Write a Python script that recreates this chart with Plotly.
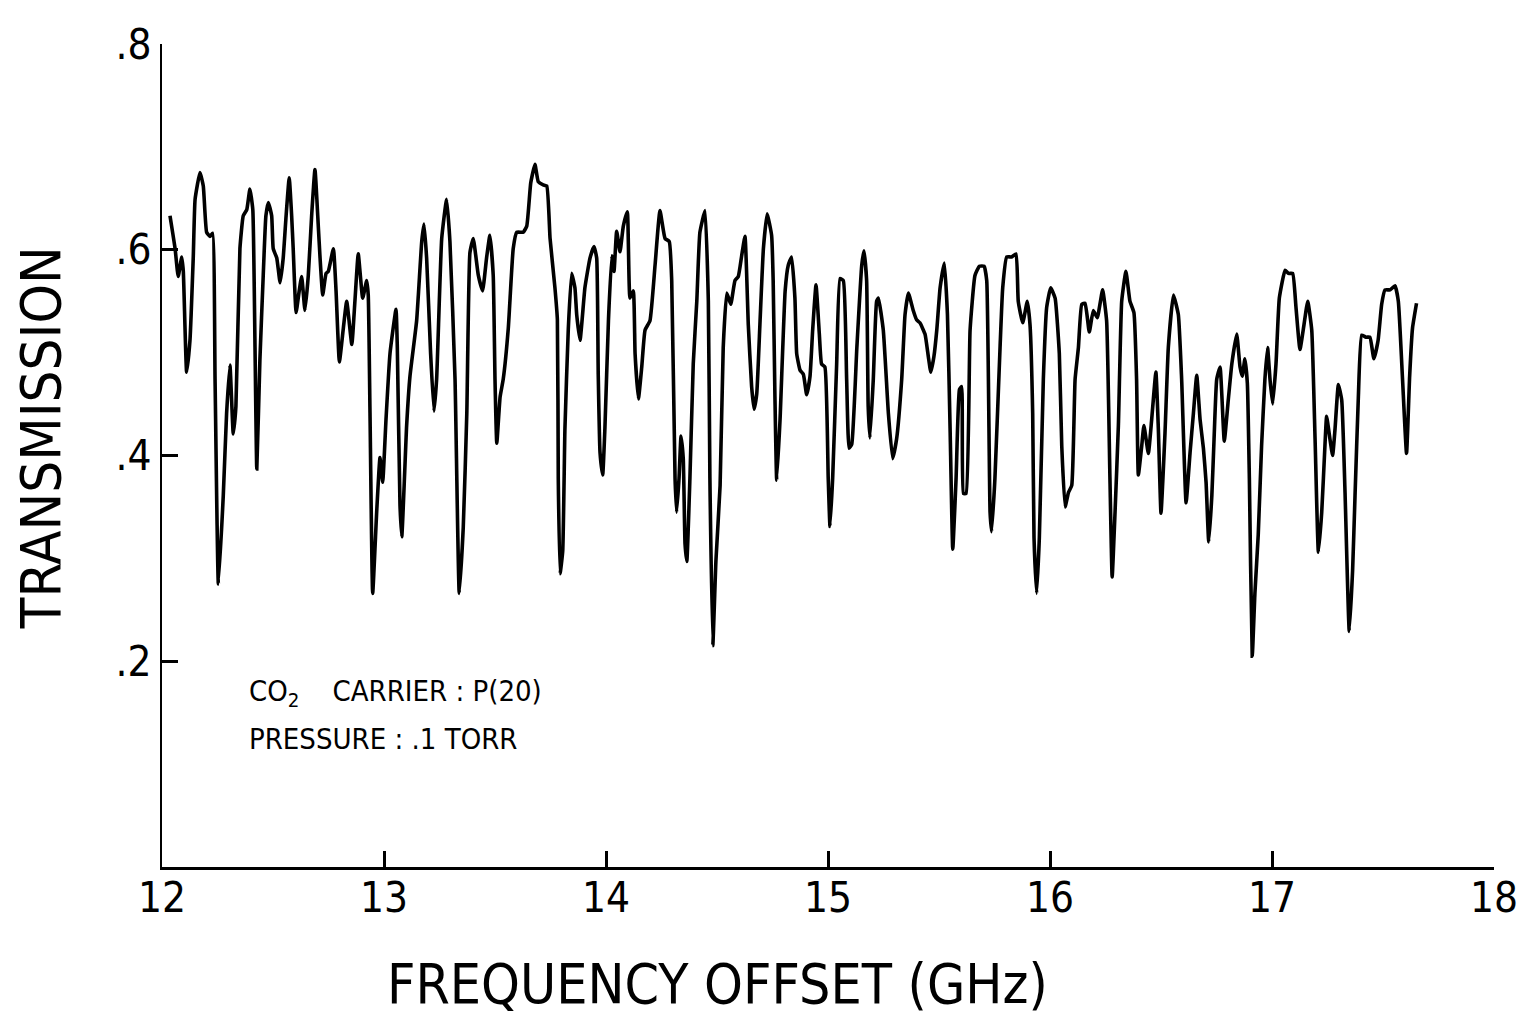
import plotly.graph_objects as go

freq = [12.036,12.059,12.073,12.089,12.096,12.111,12.126,12.141,12.149,12.171,12.186,12.201,12.216,12.228,12.239,12.254,12.276,12.291,12.306,12.321,12.333,12.351,12.366,12.382,12.396,12.409,12.419,12.427,12.441,12.456,12.468,12.479,12.494,12.501,12.517,12.532,12.546,12.559,12.573,12.584,12.591,12.604,12.618,12.629,12.644,12.659,12.674,12.689,12.704,12.712,12.724,12.739,12.749,12.772,12.784,12.799,12.817,12.832,12.855,12.869,12.884,12.904,12.922,12.929,12.937,12.949,12.967,12.982,12.994,13.009,13.027,13.054,13.060,13.072,13.080,13.102,13.117,13.147,13.170,13.180,13.192,13.210,13.225,13.237,13.260,13.282,13.297,13.320,13.339,13.357,13.373,13.387,13.402,13.425,13.444,13.462,13.477,13.492,13.500,13.508,13.523,13.537,13.560,13.582,13.598,13.627,13.643,13.661,13.680,13.695,13.717,13.733,13.748,13.770,13.781,13.785,13.793,13.805,13.815,13.830,13.845,13.860,13.868,13.883,13.905,13.928,13.946,13.958,13.965,13.973,13.985,13.995,14.011,14.026,14.036,14.048,14.063,14.078,14.096,14.108,14.123,14.131,14.146,14.161,14.176,14.198,14.221,14.243,14.266,14.285,14.296,14.311,14.318,14.329,14.338,14.348,14.356,14.364,14.378,14.393,14.409,14.423,14.446,14.461,14.468,14.481,14.495,14.514,14.528,14.544,14.562,14.581,14.596,14.611,14.626,14.641,14.656,14.667,14.679,14.694,14.709,14.726,14.746,14.753,14.761,14.769,14.784,14.807,14.821,14.836,14.851,14.859,14.874,14.889,14.904,14.919,14.931,14.946,14.961,14.971,14.986,15.001,15.009,15.021,15.039,15.054,15.069,15.084,15.095,15.107,15.130,15.152,15.162,15.174,15.181,15.189,15.204,15.219,15.227,15.249,15.272,15.291,15.309,15.332,15.347,15.362,15.384,15.399,15.414,15.437,15.452,15.463,15.477,15.490,15.505,15.524,15.538,15.550,15.562,15.577,15.592,15.602,15.610,15.622,15.640,15.662,15.682,15.703,15.715,15.730,15.737,15.752,15.775,15.787,15.805,15.827,15.847,15.857,15.877,15.898,15.910,15.922,15.928,15.940,15.952,15.970,15.985,16.003,16.023,16.042,16.053,16.068,16.083,16.098,16.113,16.128,16.143,16.158,16.177,16.195,16.213,16.237,16.255,16.270,16.280,16.293,16.308,16.323,16.342,16.360,16.378,16.390,16.398,16.413,16.423,16.443,16.458,16.477,16.488,16.500,16.518,16.533,16.556,16.578,16.593,16.613,16.631,16.646,16.661,16.676,16.691,16.703,16.715,16.729,16.739,16.751,16.766,16.785,16.803,16.819,16.841,16.856,16.866,16.878,16.889,16.898,16.911,16.923,16.938,16.953,16.968,16.980,16.991,17.003,17.018,17.033,17.059,17.074,17.093,17.108,17.126,17.144,17.161,17.179,17.194,17.209,17.224,17.239,17.246,17.261,17.273,17.284,17.299,17.314,17.329,17.348,17.363,17.374,17.389,17.404,17.423,17.441,17.459,17.478,17.494,17.509,17.532,17.554,17.569,17.588,17.606,17.620,17.633,17.651]

transmission = [0.633,0.601,0.574,0.593,0.579,0.481,0.512,0.594,0.649,0.675,0.662,0.617,0.613,0.616,0.474,0.275,0.361,0.441,0.488,0.421,0.448,0.601,0.633,0.639,0.659,0.639,0.505,0.387,0.493,0.575,0.633,0.646,0.633,0.601,0.592,0.568,0.592,0.633,0.670,0.633,0.601,0.539,0.560,0.574,0.541,0.575,0.633,0.678,0.623,0.592,0.556,0.577,0.579,0.601,0.560,0.491,0.524,0.550,0.508,0.550,0.596,0.553,0.570,0.556,0.441,0.266,0.345,0.398,0.374,0.435,0.499,0.542,0.505,0.352,0.321,0.429,0.477,0.531,0.608,0.625,0.592,0.499,0.443,0.474,0.611,0.649,0.608,0.474,0.266,0.330,0.441,0.597,0.611,0.575,0.560,0.592,0.614,0.575,0.474,0.412,0.457,0.474,0.524,0.601,0.617,0.617,0.623,0.665,0.683,0.666,0.663,0.662,0.611,0.563,0.532,0.378,0.285,0.307,0.426,0.522,0.577,0.563,0.537,0.512,0.563,0.592,0.603,0.592,0.479,0.403,0.381,0.426,0.531,0.594,0.579,0.618,0.598,0.623,0.637,0.553,0.560,0.499,0.455,0.486,0.522,0.531,0.585,0.638,0.611,0.608,0.570,0.378,0.345,0.378,0.419,0.397,0.314,0.297,0.378,0.489,0.550,0.617,0.638,0.550,0.378,0.215,0.297,0.371,0.505,0.558,0.547,0.570,0.574,0.594,0.613,0.527,0.467,0.445,0.460,0.531,0.601,0.635,0.614,0.570,0.457,0.376,0.435,0.560,0.585,0.593,0.553,0.499,0.483,0.479,0.459,0.477,0.522,0.566,0.518,0.489,0.486,0.378,0.331,0.378,0.489,0.572,0.570,0.474,0.407,0.411,0.505,0.585,0.599,0.570,0.448,0.417,0.474,0.550,0.553,0.522,0.441,0.397,0.416,0.474,0.537,0.558,0.541,0.532,0.529,0.518,0.496,0.481,0.496,0.522,0.563,0.587,0.537,0.426,0.309,0.378,0.464,0.467,0.363,0.363,0.522,0.575,0.584,0.584,0.570,0.345,0.326,0.378,0.505,0.563,0.593,0.593,0.596,0.550,0.529,0.550,0.527,0.441,0.320,0.266,0.320,0.474,0.544,0.563,0.553,0.499,0.409,0.350,0.364,0.371,0.474,0.505,0.547,0.548,0.520,0.541,0.534,0.561,0.531,0.378,0.282,0.345,0.429,0.550,0.579,0.550,0.539,0.474,0.381,0.409,0.429,0.402,0.435,0.481,0.426,0.344,0.422,0.505,0.556,0.537,0.474,0.354,0.403,0.441,0.478,0.435,0.407,0.374,0.316,0.361,0.416,0.474,0.486,0.414,0.454,0.489,0.518,0.486,0.477,0.494,0.470,0.378,0.205,0.266,0.323,0.409,0.474,0.505,0.474,0.450,0.489,0.553,0.580,0.577,0.577,0.544,0.503,0.527,0.550,0.522,0.416,0.306,0.345,0.412,0.438,0.416,0.400,0.426,0.469,0.454,0.364,0.229,0.288,0.361,0.457,0.517,0.515,0.515,0.494,0.512,0.547,0.561,0.561,0.565,0.550,0.474,0.402,0.477,0.524,0.548]

x_ticks = [12, 13, 14, 15, 16, 17, 18]
x_ticklabels = ["12", "13", "14", "15", "16", "17", "18"]
y_ticks = [0.2, 0.4, 0.6, 0.8]
y_ticklabels = [".2", ".4", ".6", ".8"]

FONT = "DejaVu Sans Condensed, Liberation Sans Narrow, Liberation Sans, Arial, sans-serif"

fig = go.Figure()
fig.add_trace(go.Scatter(x=freq, y=transmission, mode="lines",
                         line=dict(color="black", width=3.6, shape="spline", smoothing=0.4),
                         showlegend=False, hoverinfo="skip"))

fig.update_layout(
    width=1511, height=1009,
    margin=dict(l=154, r=25, t=26, b=150),
    paper_bgcolor="white", plot_bgcolor="white",
    font=dict(family=FONT, color="black"),
    xaxis=dict(range=[12, 18], tickvals=x_ticks, showticklabels=False,
               showgrid=False, zeroline=False, showline=True, linecolor="black",
               linewidth=3, ticks="inside", ticklen=16, tickwidth=3, tickcolor="black"),
    yaxis=dict(range=[0, 0.8], tickvals=y_ticks, ticktext=y_ticklabels,
               showgrid=False, zeroline=False, showline=True, linecolor="black",
               linewidth=2, ticks="inside", ticklen=16, tickwidth=3, tickcolor="black",
               tickfont=dict(size=42, family=FONT)),
)

for xv, lab in zip(x_ticks, x_ticklabels):
    fig.add_annotation(text=lab, xref="x", yref="paper", x=xv, y=0,
                       xanchor="center", yanchor="top", yshift=-4,
                       showarrow=False, font=dict(size=42, family=FONT))

fig.add_annotation(text="FREQUENCY OFFSET (GHz)", xref="paper", yref="paper",
                   x=0.417, y=-0.142, xanchor="center", yanchor="middle",
                   showarrow=False, font=dict(size=55, family=FONT))
fig.add_annotation(text="TRANSMISSION", xref="paper", yref="paper",
                   x=-0.0916, y=0.522, xanchor="center", yanchor="middle",
                   textangle=-90, showarrow=False, font=dict(size=56, family=FONT))
fig.add_annotation(text="CO<sub>2</sub>    CARRIER : P(20)", xref="x", yref="y",
                   x=12.383, y=0.169, xanchor="left", yanchor="middle",
                   showarrow=False, font=dict(size=29, family=FONT))
fig.add_annotation(text="PRESSURE : .1 TORR", xref="x", yref="y",
                   x=12.383, y=0.124, xanchor="left", yanchor="middle",
                   showarrow=False, font=dict(size=29, family=FONT))

fig.write_html("out.html")
